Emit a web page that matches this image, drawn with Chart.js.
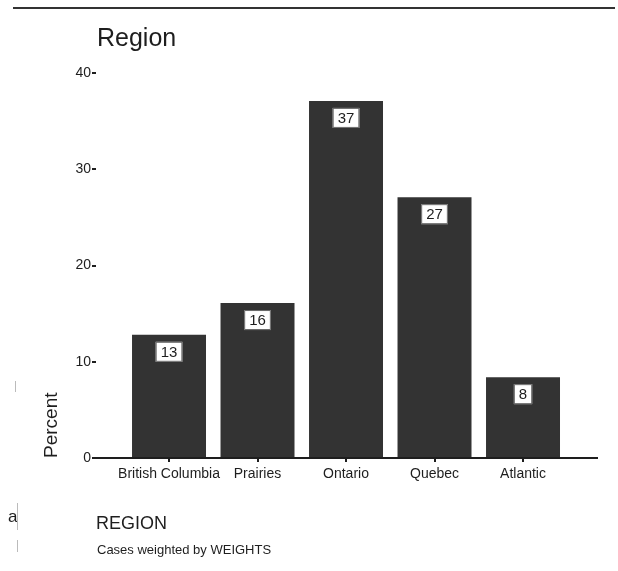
<!DOCTYPE html>
<html>
<head>
<meta charset="utf-8">
<script src="https://cdn.jsdelivr.net/npm/chart.js@4.4.0/dist/chart.umd.min.js"></script>
<style>
  body { margin: 0; background: #fff; }
  #wrap { width: 618px; height: 571px; position: relative; }
</style>
</head>
<body>
<div id="wrap"><canvas id="regionChart"></canvas></div>
<script>
// data
const regions = ['British Columbia', 'Prairies', 'Ontario', 'Quebec', 'Atlantic'];
const percents = [12.8, 16.1, 37.1, 27.1, 8.4];
const barLabels = ['13', '16', '37', '27', '8'];
const yTicks = [0, 10, 20, 30, 40];

const chartTitle = 'Region';
const yTitle = 'Percent';
const xTitle = 'REGION';
const footNote = 'Cases weighted by WEIGHTS';

const ink = '#1e1e1e';
const barColor = '#333333';
const sans = "'Liberation Sans', Arial, sans-serif";

// white boxed value labels near the top of each bar
const boxLabels = {
  id: 'boxLabels',
  afterDatasetsDraw(chart) {
    const ctx = chart.ctx;
    const meta = chart.getDatasetMeta(0);
    ctx.save();
    ctx.font = '15px ' + sans;
    ctx.textAlign = 'center';
    ctx.textBaseline = 'middle';
    meta.data.forEach((bar, i) => {
      const txt = barLabels[i];
      const w = ctx.measureText(txt).width + 10;
      const h = 20;
      const top = bar.y + 7;
      ctx.fillStyle = '#fff';
      ctx.fillRect(bar.x - w / 2, top, w, h);
      ctx.strokeStyle = '#666';
      ctx.lineWidth = 1;
      ctx.strokeRect(bar.x - w / 2 + 0.5, top + 0.5, w - 1, h - 1);
      ctx.fillStyle = ink;
      ctx.fillText(txt, bar.x, top + h / 2 + 1);
    });
    ctx.restore();
  }
};

// title, footnote and the page decorations
const extras = {
  id: 'extras',
  afterDraw(chart) {
    const ctx = chart.ctx;
    ctx.save();
    // rule across the top
    ctx.strokeStyle = '#333';
    ctx.lineWidth = 2;
    ctx.beginPath();
    ctx.moveTo(13, 8);
    ctx.lineTo(615, 8);
    ctx.stroke();

    ctx.fillStyle = ink;
    ctx.textAlign = 'left';
    ctx.textBaseline = 'alphabetic';
    ctx.font = '25px ' + sans;
    ctx.fillText(chartTitle, chart.chartArea.left + 1, 46);

    ctx.font = '13px ' + sans;
    ctx.fillText(footNote, chart.chartArea.left + 1, 554);

    // stray marks at the left edge
    ctx.font = '17px ' + sans;
    ctx.fillText('a', 8, 522);
    ctx.strokeStyle = '#bbb';
    ctx.lineWidth = 1;
    ctx.beginPath();
    ctx.moveTo(17.5, 503); ctx.lineTo(17.5, 530);
    ctx.moveTo(17.5, 540); ctx.lineTo(17.5, 552);
    ctx.moveTo(15.5, 381); ctx.lineTo(15.5, 392);
    ctx.stroke();
    ctx.restore();
  }
};

const ctx = document.getElementById('regionChart').getContext('2d');

new Chart(ctx, {
  type: 'bar',
  data: {
    datasets: [{
      data: percents.map((v, i) => ({ x: i, y: v })),
      backgroundColor: barColor,
      borderWidth: 0,
      barPercentage: 0.836,
      categoryPercentage: 1
    }]
  },
  options: {
    responsive: true,
    maintainAspectRatio: false,
    animation: false,
    layout: { padding: { left: 0, right: 21, top: 73, bottom: 0 } },
    plugins: {
      legend: { display: false },
      title: { display: false },
      tooltip: { enabled: false }
    },
    scales: {
      x: {
        type: 'linear',
        offset: false,
        min: -0.825,
        max: 4.836,
        afterBuildTicks: s => { s.ticks = regions.map((_, i) => ({ value: i })); },
        afterFit: s => { s.height = 113; },
        grid: { offset: false, drawOnChartArea: false, drawTicks: true, tickLength: 4, color: ink, lineWidth: 2 },
        border: { display: true, color: ink, width: 2 },
        ticks: {
          autoSkip: false,
          maxRotation: 0,
          padding: 4,
          color: ink,
          font: { family: sans, size: 14 },
          callback: v => regions[v]
        },
        title: {
          display: true,
          text: xTitle,
          align: 'start',
          color: ink,
          font: { family: sans, size: 18 },
          padding: { top: 0, bottom: 36 }
        }
      },
      y: {
        min: 0,
        max: 40,
        afterBuildTicks: s => { s.ticks = yTicks.map(v => ({ value: v })); },
        afterFit: s => { s.width = 96; },
        grid: { drawOnChartArea: false, drawTicks: true, tickLength: 4, color: ink, lineWidth: 2 },
        border: { display: false },
        ticks: {
          padding: 1,
          color: ink,
          font: { family: sans, size: 14 }
        },
        title: {
          display: true,
          text: yTitle,
          align: 'start',
          color: ink,
          font: { family: sans, size: 19 },
          padding: { top: 40, bottom: 0 }
        }
      }
    }
  },
  plugins: [boxLabels, extras]
});
</script>
</body>
</html>
